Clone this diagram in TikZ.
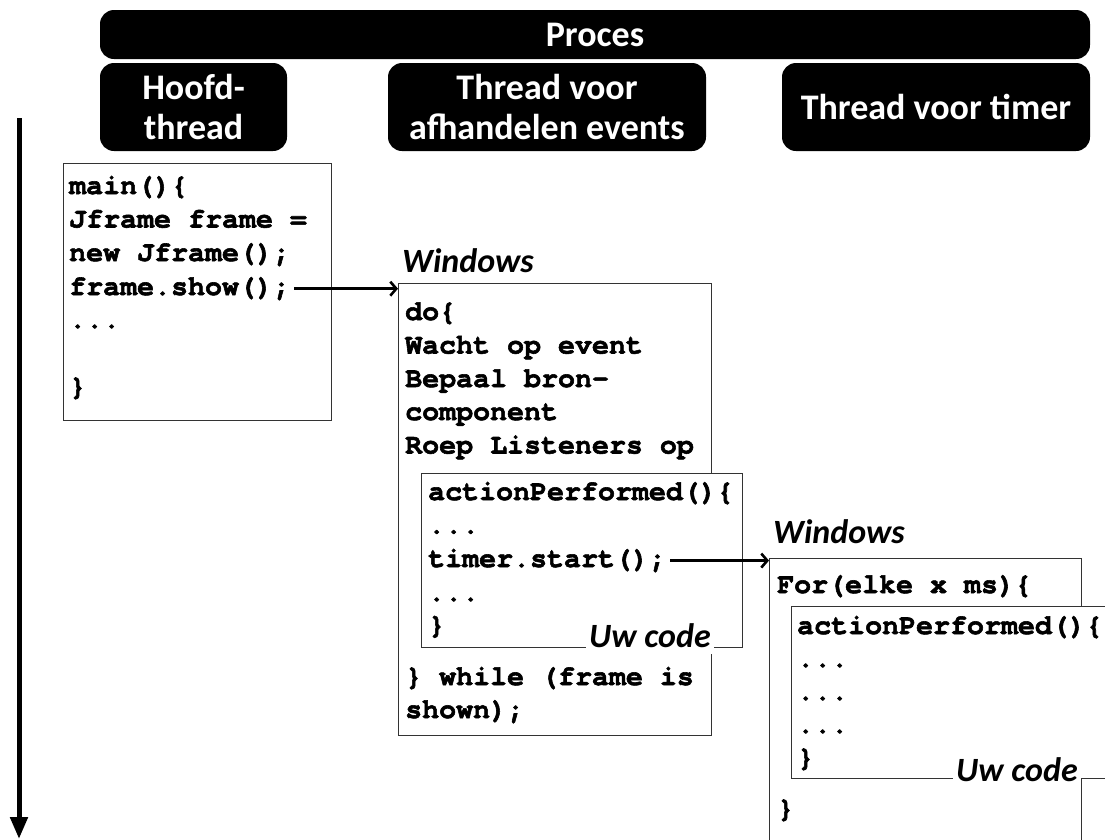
\documentclass[tikz,border=0pt]{standalone}
\usepackage{fontspec}
\setmainfont{Carlito}
\newfontfamily\javafont{texgyrecursor}[Extension=.otf, UprightFont=*-regular,
 BoldFont=*-bold, BoldFeatures={FakeBold=2}]
\usetikzlibrary{arrows.meta, positioning}
\newcommand{\codedots}{.{}.{}.}
\tikzset{head/.style={fill=black, text=white, rounded corners=14pt, inner sep=0pt,
 align=center, font=\fontsize{36}{40}\selectfont\bfseries},
 codebox/.style={draw=black!80, line width=1.3pt, fill=white, anchor=north west,
 inner sep=0pt},
 codeline/.style={anchor=base west, inner sep=0pt,
 font=\javafont\fontsize{28.3}{33}\selectfont\bfseries},
 tag/.style={anchor=base west, inner sep=0pt,
 font=\fontsize{34}{38}\selectfont\bfseries\itshape},
 uwcode/.style={tag, fill=white, inner xsep=3pt, inner ysep=7pt},
 call/.style={-{Straight Barb[length=6pt,width=14pt]}, line width=2.6pt,
 shorten <=4pt}
}
\begin{document}
\begin{tikzpicture}[x=1pt, y=-1pt]
\useasboundingbox (0,0) rectangle (1105,839);
\clip (0,0) rectangle (1105,839);

\node [head, minimum width=990, minimum height=49] (proces) at (595,34.5) {Proces};
\node [head, minimum width=187, minimum height=88] (hoofd) at (193.5,107) {Hoofd-\\thread};
\node [head, minimum width=318, minimum height=88] (events) at (547,107) {Thread voor\\afhandelen events};
\node [head, minimum width=308, minimum height=88] (timer) at (936,107) {Thread voor timer};

\coordinate (t0) at (19,118);
\coordinate (t1) at (19,839);
\draw [line width=5pt, -{Triangle[length=22pt,width=17pt]}] (t0) -- (t1);

\node [codebox, minimum width=268, minimum height=257] (mainbox) at (63,163) {};
\foreach \y/\t in {194/main()\{, 227.5/Jframe frame =, 261/new Jframe();,
  328/\codedots, 395/\}}
  \node [codeline] at (69,\y) {\t};
\node [codeline] (show) at (69,295) {frame.show();};

\node [tag] (winev) at (402,272) {Windows};
\node [codebox, minimum width=313, minimum height=452] (evbox) at (398,283) {};
\foreach \y/\t in {320/do\{, 353.5/Wacht op event, 387/Bepaal bron-,
  420/component, 453.5/Roep Listeners op, 685/\} while (frame is, 718/shown);}
  \node [codeline] at (405,\y) {\t};
\node [codebox, minimum width=321, minimum height=174] (evcode) at (421,473) {};
\foreach \y/\t in {500/actionPerformed()\{, 533.5/\codedots, 601/\codedots, 633.5/\}}
  \node [codeline] at (428,\y) {\t};
\node [codeline] (start) at (428,567) {timer.start();};
\node [uwcode] (uwev) at (586,647) {Uw code\hspace{10pt}};

\node [tag] (wintm) at (773,543) {Windows};
\node [codebox, minimum width=312, minimum height=350] (tmbox) at (769,558) {};
\foreach \y/\t in {593/For(elke x ms)\{, 817/\}}
  \node [codeline] at (777,\y) {\t};
\node [codebox, minimum width=400, minimum height=172] (tmcode) at (791,606) {};
\foreach \y/\t in {634/actionPerformed()\{, 667/\codedots, 700/\codedots, 733/\codedots, 766/\}}
  \node [codeline] at (797,\y) {\t};
\node [uwcode] (uwtm) at (953,781) {Uw code\hspace{5pt}};

\draw [call] (show.east) -- (show.east -| evbox.west);
\draw [call] (start.east) -- (start.east -| tmbox.west);
\end{tikzpicture}
\end{document}
